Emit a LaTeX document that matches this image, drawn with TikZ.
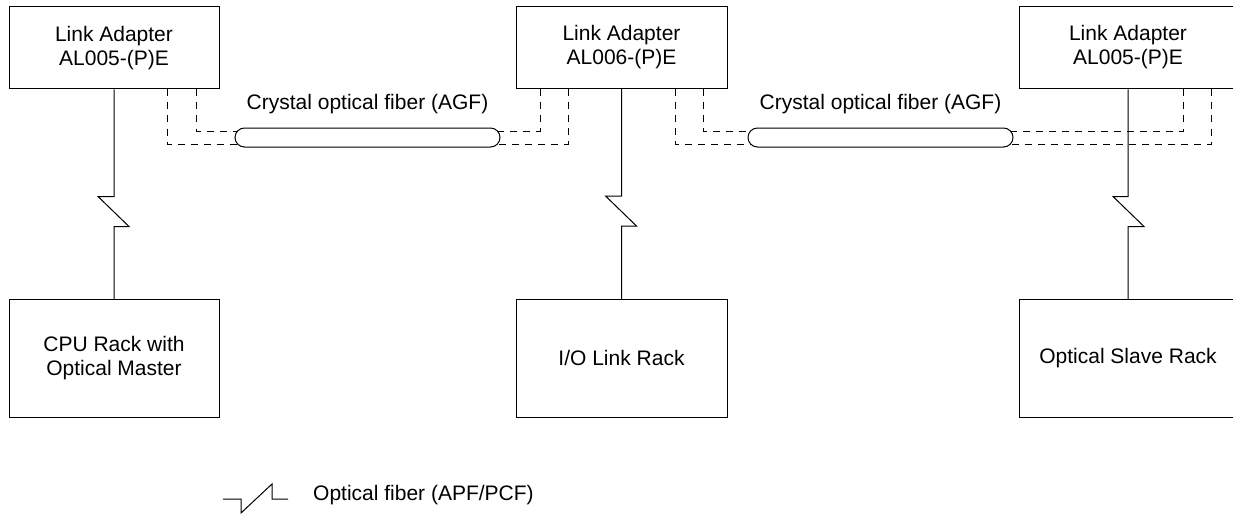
\documentclass[tikz,border=0pt]{standalone}
\usepackage{fontspec}
\setmainfont{Liberation Sans}
\usetikzlibrary{backgrounds}
\begin{document}
\begin{tikzpicture}[x=1pt,y=-1pt,
  every node/.style={font=\fontsize{21}{24}\selectfont},
  unitbox/.style={draw,line width=1pt,minimum width=210pt,align=center},
  topbox/.style={unitbox,minimum height=82pt},
  rackbox/.style={unitbox,minimum height=117.5pt},
  capsule/.style={draw,line width=1pt,fill=white,rounded corners=9.5pt,minimum width=265pt,minimum height=19pt,inner sep=0pt},
  fiber/.style={line width=0.8pt,dash pattern=on 7pt off 6pt},
  link/.style={line width=1pt}]
\useasboundingbox (0,0) rectangle (1233,516);
% top adapters
\node[topbox] (la1) at (114,48) {Link Adapter\\AL005-(P)E};
\node[topbox,minimum width=211pt] (la2) at (621.5,47.5) {Link Adapter\\AL006-(P)E};
\node[topbox,minimum width=230pt] (la3) at (1138,48) {\makebox[210pt]{\begin{tabular}{@{}c@{}}Link Adapter\\AL005-(P)E\end{tabular}}\hspace*{20pt}};
% racks
\node[rackbox] (cpu) at (114,358.25) {CPU Rack with\\Optical Master};
\node[rackbox,minimum width=211pt] (io) at (621.5,358.25) {I/O Link Rack};
\node[rackbox,minimum width=230pt] (osr) at (1138,358.25) {\makebox[210pt]{Optical Slave Rack}\hspace*{20pt}};
% capsules
\node[capsule] (cap1) at (367.5,137.5) {};
\node[capsule] (cap2) at (880.5,137.5) {};
\node (lbl1) at ([yshift=33.5pt]cap1.center) {Crystal optical fiber (AGF)};
\node (lbl2) at ([yshift=33.5pt]cap2.center) {Crystal optical fiber (AGF)};
% dashed fibers behind capsules
\begin{scope}[on background layer]
\draw[fiber] ([xshift=53pt]la1.south) |- ([yshift=-6.5pt]cap1.center);
\draw[fiber] ([xshift=82pt]la1.south) |- ([yshift=6.5pt]cap1.center);
\draw[fiber] ([xshift=-81.5pt]la2.south) |- ([yshift=6.5pt]cap1.center);
\draw[fiber] ([xshift=-53.5pt]la2.south) |- ([yshift=-6.5pt]cap1.center);
\draw[fiber] ([xshift=53.5pt]la2.south) |- ([yshift=-6.5pt]cap2.center);
\draw[fiber] ([xshift=81.5pt]la2.south) |- ([yshift=6.5pt]cap2.center);
\draw[fiber] (la3.south -| 1183,0) |- ([yshift=6.5pt]cap2.center);
\draw[fiber] (la3.south -| 1211,0) |- ([yshift=-6.5pt]cap2.center);
\end{scope}
% optical fiber links with break symbol
\draw[link] (la1.south) -- ++(0,107) -- ++(-16,0) -- ++(31,30) -- ++(-15,0) -- (cpu.north);
\draw[link] (la2.south) -- ++(0,107) -- ++(-16,0) -- ++(31,30) -- ++(-15,0) -- (io.north);
\draw[link] (la3.south -| 1128,0) -- ++(0,107) -- ++(-15,0) -- ++(31,30) -- ++(-16,0) -- (osr.north -| 1128,0);
% legend
\draw[link] (223,499) -- (241,499) -- (241,513) -- (272,484) -- (272,499) -- (288,499);
\node[anchor=west,inner sep=0pt] (leg) at (313,495) {Optical fiber (APF/PCF)};
\end{tikzpicture}
\end{document}
